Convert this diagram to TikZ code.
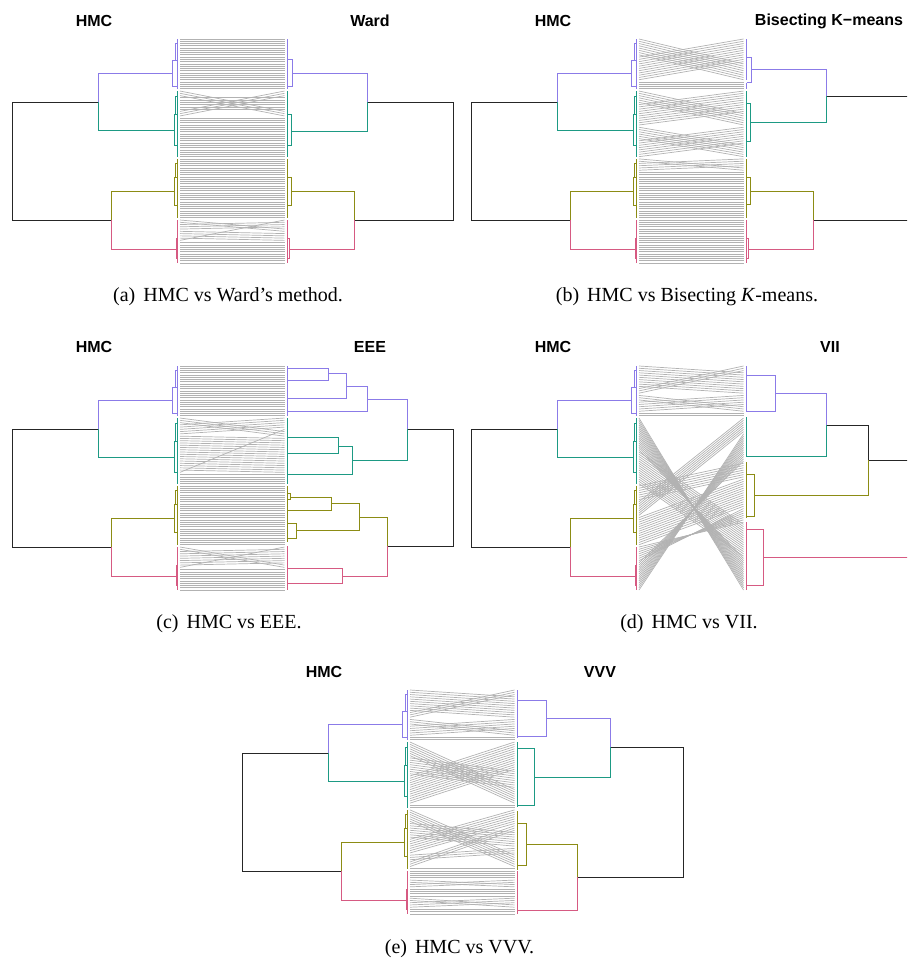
\documentclass[tikz,border=0pt]{standalone}
\usepackage{fontspec}
\setmainfont{Liberation Serif}
\setsansfont{Liberation Sans}
\definecolor{clpurple}{HTML}{8B7BE8}
\definecolor{clteal}{HTML}{1D9A84}
\definecolor{clolive}{HTML}{8C8C14}
\definecolor{clpink}{HTML}{D65A82}
\tikzset{
  br/.style={line width=0.5pt},
  root/.style={br, draw=black!85},
  cpurple/.style={br, draw=clpurple},
  cteal/.style={br, draw=clteal},
  colive/.style={br, draw=clolive},
  cpink/.style={br, draw=clpink},
  tline/.style={draw=black!30, line width=0.35pt},
  ttl/.style={font=\sffamily\bfseries\fontsize{8}{9}\selectfont},
  captxt/.style={font=\fontsize{10}{12}\selectfont}
}
% leaf end points of one tanglegram
\newcommand{\leafpts}[1]{%
  \foreach \i in {1,...,100} {
    \pgfmathsetmacro\yy{39+(\i-1)*2.262626}
    \coordinate (#1-l\i) at (180,\yy);
    \coordinate (#1-r\i) at (284.5,\yy);
  }}
% connectors: left first/left last/right first/step
\newcommand{\tangle}[2]{%
  \foreach \la/\lb/\rc/\st in {#2} {
    \foreach \k in {\la,...,\lb} {
      \pgfmathtruncatemacro\rk{\rc+\st*(\k-\la)}
      \draw[tline] (#1-l\k) -- (#1-r\rk);
    }}}
\newcommand{\lbr}[4]{\draw[#1] (177,#3) -| (#2,#4) -- (177,#4);}
\newcommand{\rbr}[4]{\draw[#1] (287.5,#3) -| (#2,#4) -- (287.5,#4);}
\newcommand{\lcol}[3]{\draw[#1] (177,#2) -- (177,#3);}
\newcommand{\rcol}[3]{\draw[#1] (287.5,#2) -- (287.5,#3);}
% HMC dendrogram, always on the left
\newcommand{\hmctree}{%
  \draw[root] (98,102) -- (12,102) -- (12,220) -- (111,220);
  \draw[cpurple] (98,102) -- (98,73) -- (172.5,73);
  \draw[cteal] (98,102) -- (98,130) -- (174,130);
  \draw[colive] (111,220) -- (111,191) -- (174,191);
  \draw[cpink] (111,220) -- (111,249) -- (176,249);
  \lcol{cpurple}{39}{88.8} \lbr{cpurple}{172.5}{60}{86} \lbr{cpurple}{175}{43}{60}
  \lcol{cteal}{91}{156.6} \lbr{cteal}{174}{114}{145} \lbr{cteal}{175.5}{96}{114}
  \lcol{colive}{158.9}{217.7} \lbr{colive}{174}{177}{205} \lbr{colive}{175.5}{163}{177}
  \lcol{cpink}{220}{263} \lbr{cpink}{176}{238}{258}
}

\begin{document}
\begin{tikzpicture}[x=0.5pt, y=-0.5pt]
  \useasboundingbox (0,0) rectangle (907,965);
  \clip (0,0) rectangle (907,965);

  % (a) Ward
  \begin{scope}
    \leafpts{a}
    \tangle{a}{1/23/1/1, 24/26/33/1, 27/32/27/1, 33/35/24/1, 36/80/36/1,
      81/82/85/1, 83/85/82/1, 86/89/87/1, 90/90/81/1, 91/100/91/1}
    \hmctree
    \draw[root] (367,102) -- (453,102) -- (453,220) -- (354,220);
    \draw[cpurple] (367,102) -- (367,73) -- (292,73);
    \draw[cteal] (367,102) -- (367,131) -- (291,131);
    \draw[colive] (354,220) -- (354,191) -- (291,191);
    \draw[cpink] (354,220) -- (354,249) -- (289,249);
    \rcol{cpurple}{39}{88.8} \rbr{cpurple}{292}{59}{86}
    \rcol{cteal}{91}{156.6} \rbr{cteal}{291}{114}{145}
    \rcol{colive}{158.9}{217.7} \rbr{colive}{291}{177}{205}
    \rcol{cpink}{220}{263} \rbr{cpink}{289}{238}{258}
    \node[ttl] (a-lt) at (94,21) {HMC};
    \node[ttl] (a-rt) at (370,21) {Ward};
    \node[captxt] (a-cap) at (228,297) {(a)\hspace{4pt}HMC vs Ward’s method.};
  \end{scope}

  % (b) Bisecting K-means
  \begin{scope}[shift={(459,0)}]
    \leafpts{b}
    \tangle{b}{1/8/12/1, 9/19/1/1, 20/23/20/1, 24/29/34/1, 30/39/24/1,
      40/45/48/1, 46/53/40/1, 54/55/58/1, 56/59/54/1, 60/100/60/1}
    \hmctree
    \draw[root] (367,96) -- (453,96) -- (453,220) -- (354,220);
    \draw[cpurple] (367,96) -- (367,69) -- (292.5,69);
    \draw[cteal] (367,96) -- (367,122) -- (291,122);
    \draw[colive] (354,220) -- (354,191) -- (291,191);
    \draw[cpink] (354,220) -- (354,249) -- (289,249);
    \rcol{cpurple}{39}{80} \rcol{cpurple}{82.5}{88.8} \rbr{cpurple}{292.5}{57}{82}
    \rcol{cteal}{91}{156.6} \rbr{cteal}{291}{103}{141}
    \rcol{colive}{158.9}{217.7} \rbr{colive}{291}{177}{204}
    \rcol{cpink}{220}{263} \rbr{cpink}{289}{238}{258}
    \node[ttl] (b-lt) at (94,21) {HMC};
    \node[ttl] (b-rt) at (370,21) {Bisecting K−means};
    \node[captxt] (b-cap) at (228,297) {(b)\hspace{4pt}HMC vs Bisecting \textit{K}-means.};
  \end{scope}

  % (c) EEE
  \begin{scope}[shift={(0,327)}]
    \leafpts{c}
    \tangle{c}{1/23/1/1, 24/26/30/1, 27/31/24/1, 32/47/33/1, 48/48/29/1,
      49/80/49/1, 81/82/89/1, 83/89/82/1, 90/90/81/1, 91/100/91/1}
    \hmctree
    \draw[root] (407,102) -- (453,102) -- (453,219) -- (387,219);
    \draw[cpurple] (407,102) -- (407,72) -- (367,72);
    \draw[cpurple] (346,59) -- (367,59) -- (367,84) -- (287.5,84);
    \draw[cpurple] (328,46) -- (346,46) -- (346,71) -- (287.5,71);
    \rbr{cpurple}{328}{41}{53}
    \draw[cteal] (407,102) -- (407,133) -- (352,133);
    \draw[cteal] (338,119) -- (352,119) -- (352,147) -- (287.5,147);
    \rbr{cteal}{338}{110}{126}
    \draw[colive] (387,219) -- (387,190) -- (359,190);
    \draw[colive] (331,176) -- (359,176) -- (359,203) -- (296,203);
    \draw[colive] (290,170) -- (331,170) -- (331,183) -- (287.5,183);
    \rbr{colive}{290}{166}{172} \rbr{colive}{296}{196}{211}
    \draw[cpink] (387,219) -- (387,249) -- (342,249);
    \rbr{cpink}{342}{241}{256}
    \rcol{cpurple}{39}{88.8} \rcol{cteal}{91}{156.6}
    \rcol{colive}{158.9}{215} \rcol{cpink}{219}{263}
    \node[ttl] (c-lt) at (94,20) {HMC};
    \node[ttl] (c-rt) at (370,20) {EEE};
    \node[captxt] (c-cap) at (229,297) {(c)\hspace{4pt}HMC vs EEE.};
  \end{scope}

  % (d) VII
  \begin{scope}[shift={(459,327)}]
    \leafpts{d}
    \tangle{d}{1/10/4/1, 11/13/1/1, 14/16/19/1, 17/21/14/1, 22/23/22/1,
      24/38/100/-1, 39/53/71/1, 54/60/44/1, 61/67/24/1, 68/80/51/1,
      81/87/70/-1, 88/100/43/-1}
    \hmctree
    \draw[root] (367,98) -- (409,98) -- (409,133) -- (460,133) -- (460,230);
    \draw[cpurple] (367,98) -- (367,66) -- (316,66);
    \rbr{cpurple}{316}{48}{84}
    \draw[cteal] (367,98) -- (367,129) -- (287.5,129);
    \draw[colive] (409,133) -- (409,168) -- (295,168);
    \rbr{colive}{295}{147}{189}
    \draw[cpink] (304,230) -- (460,230);
    \rbr{cpink}{304}{202}{258}
    \rcol{cpurple}{39}{85} \rcol{cteal}{90}{130}
    \rcol{colive}{135}{191} \rcol{cpink}{195}{263}
    \node[ttl] (d-lt) at (94,20) {HMC};
    \node[ttl] (d-rt) at (371,20) {VII};
    \node[captxt] (d-cap) at (230,297) {(d)\hspace{4pt}HMC vs VII.};
  \end{scope}

  % (e) VVV
  \begin{scope}[shift={(230,651)}]
    \leafpts{e}
    \tangle{e}{1/10/4/1, 11/13/1/1, 14/16/19/1, 17/21/14/1, 22/23/22/1,
      24/30/45/1, 31/38/37/1, 39/51/24/1, 52/53/52/1,
      54/59/74/1, 60/66/64/1, 67/73/54/1, 74/76/71/1, 77/79/61/1, 80/80/80/1,
      81/84/81/1, 85/86/87/1, 87/88/85/1, 89/92/89/1, 93/94/96/1, 95/97/93/1, 98/100/98/1}
    \hmctree
    \draw[root] (380,96) -- (453,96) -- (453,226) -- (347,226);
    \draw[cpurple] (380,96) -- (380,67) -- (316,67);
    \rbr{cpurple}{316}{49}{85}
    \draw[cteal] (380,96) -- (380,126) -- (304,126);
    \rbr{cteal}{304}{97}{154}
    \draw[colive] (347,226) -- (347,193) -- (296,193);
    \rbr{colive}{296}{172}{214}
    \draw[cpink] (347,226) -- (347,259) -- (287.5,259);
    \rcol{cpurple}{39}{87} \rcol{cteal}{91}{156}
    \rcol{colive}{160}{219} \rcol{cpink}{220}{263}
    \node[ttl] (e-lt) at (94,21) {HMC};
    \node[ttl] (e-rt) at (370,21) {VVV};
    \node[captxt] (e-cap) at (229.5,298) {(e)\hspace{4pt}HMC vs VVV.};
  \end{scope}
\end{tikzpicture}
\end{document}
